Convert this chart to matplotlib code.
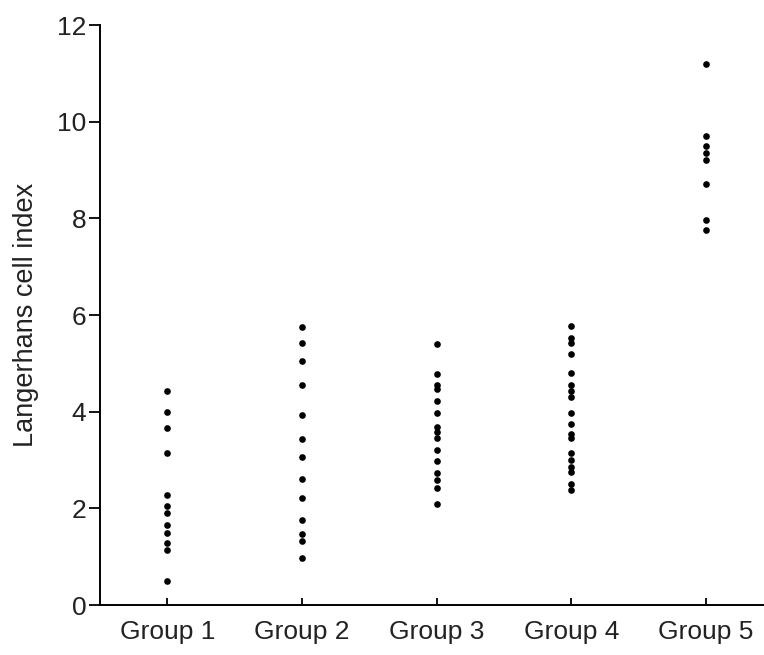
import matplotlib.pyplot as plt
import numpy as np

plt.rcParams["font.family"] = ["Liberation Sans", "DejaVu Sans"]

groups = ["Group 1", "Group 2", "Group 3", "Group 4", "Group 5"]

group1 = [4.43, 3.99, 3.66, 3.14, 2.27, 2.05, 1.90, 1.65, 1.48, 1.28, 1.14, 0.50]
group2 = [5.76, 5.42, 5.05, 4.55, 3.93, 3.44, 3.07, 2.61, 2.22, 1.76, 1.47, 1.33, 0.97]
group3 = [5.40, 4.78, 4.55, 4.47, 4.23, 3.97, 3.69, 3.57, 3.45, 3.21, 2.97, 2.74,
          2.59, 2.42, 2.09]
group4 = [5.78, 5.52, 5.42, 5.19, 4.80, 4.55, 4.42, 4.30, 3.97, 3.75, 3.54, 3.45,
          3.14, 3.00, 2.86, 2.76, 2.50, 2.38]
group5 = [11.20, 9.70, 9.49, 9.35, 9.21, 8.71, 7.97, 7.76]

all_groups = [group1, group2, group3, group4, group5]

fig = plt.figure(figsize=(7.64, 6.55), dpi=100)
ax = fig.add_axes([0.131, 0.0763, 0.869, 0.8855])

for i, vals in enumerate(all_groups):
    xs = np.full(len(vals), i + 1)
    ax.plot(xs, vals, "o", color="black", markersize=4.8, markeredgewidth=0)

ax.set_xlim(0.5, 5.43)
ax.set_ylim(0, 12)
ax.set_yticks(np.arange(0, 13, 2))
ax.set_xticks(np.arange(1, 6), groups)

ax.spines["top"].set_visible(False)
ax.spines["right"].set_visible(False)
ax.spines["left"].set_linewidth(1.4)
ax.spines["bottom"].set_linewidth(1.4)

ax.tick_params(axis="y", direction="out", length=8, width=1.3, pad=2,
               labelsize=19, labelcolor="#222222")
ax.tick_params(axis="x", direction="in", length=5, width=1.3, pad=11,
               labelsize=19, labelcolor="#222222")

ax.set_ylabel("Langerhans cell index", fontsize=19.5, labelpad=13, color="#222222")

fig.savefig("out.png", dpi=100)
